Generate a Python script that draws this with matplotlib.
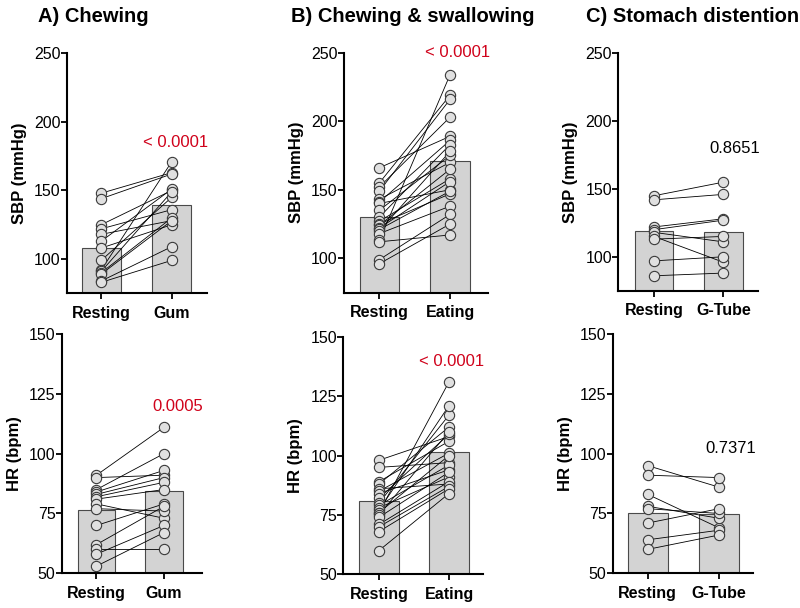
import matplotlib
matplotlib.use('Agg')
import matplotlib.pyplot as plt

plt.rcParams['font.family'] = ['Liberation Sans', 'DejaVu Sans']

# ---------------- data ----------------
labels_A = ['Resting', 'Gum']
labels_B = ['Resting', 'Eating']
labels_C = ['Resting', 'G-Tube']

titles = ['A) Chewing', 'B) Chewing & swallowing', 'C) Stomach distention']

# SBP (mmHg)
sbp_A_rest = [148, 144, 125, 122, 118, 113, 108, 99, 92, 91, 90, 89, 84, 83]
sbp_A_gum = [163, 162, 150, 136, 128, 151, 125, 145, 171, 149, 130, 128, 109, 99]
sbp_A_means = [108, 139.5]

sbp_B_rest = [166, 155, 152, 149, 143, 141, 140, 135, 130, 127, 125, 124, 122, 121, 120, 118, 113, 112, 99, 96]
sbp_B_eat = [189, 219, 203, 216, 170, 186, 150, 175, 183, 158, 147, 165, 156, 149, 178, 138, 234, 117, 132, 125]
sbp_B_means = [130, 171]

sbp_C_rest = [145, 142, 122, 120, 118, 115, 113, 97, 86]
sbp_C_tube = [155, 146, 128, 127, 111, 96, 115, 100, 88]
sbp_C_means = [119, 118]

# HR (bpm)
hr_A_rest = [91, 90, 85, 84, 83, 82, 81, 79, 77, 70, 62, 60, 58, 53]
hr_A_gum = [111, 91, 100, 93, 90, 88, 85, 73, 76, 79, 78, 60, 70, 67]
hr_A_means = [76.5, 84.4]

hr_B_rest = [98, 95, 89, 88, 86, 85, 84, 82, 80, 79, 78, 77, 76, 76, 75, 74, 71, 70, 68, 60]
hr_B_eat = [108, 97, 106, 112, 88, 101, 94, 109, 117, 96, 91, 121, 131, 100, 110, 93, 89, 87, 86, 84]
hr_B_means = [81, 101.5]

hr_C_rest = [95, 91, 83, 78, 77, 71, 64, 60]
hr_C_tube = [86, 90, 69, 73, 75, 77, 68, 66]
hr_C_means = [75, 74.7]

p_sbp = ['< 0.0001', '< 0.0001', '0.8651']
p_hr = ['0.0005', '< 0.0001', '0.7371']

# ---------------- layout ----------------
W, H = 800, 608
fig = plt.figure(figsize=(W / 100, H / 100), dpi=100)

def rect(x0, x1, y0, y1):
    return [x0 / W, 1 - y1 / H, (x1 - x0) / W, (y1 - y0) / H]

RED = '#d0021b'
panels = [
    dict(r=rect(66.7, 207, 53.3, 293.3), xl=(-0.49, 1.5), d=(sbp_A_rest, sbp_A_gum), m=sbp_A_means,
         lab=labels_A, yl=(75, 250), yt=[100, 150, 200, 250], ylab='SBP (mmHg)', p=p_sbp[0], pc=RED, pp=(1.05, 185)),
    dict(r=rect(344, 488.3, 52.7, 292.5), xl=(-0.5, 1.54), d=(sbp_B_rest, sbp_B_eat), m=sbp_B_means,
         lab=labels_B, yl=(75, 250), yt=[100, 150, 200, 250], ylab='SBP (mmHg)', p=p_sbp[1], pc=RED, pp=(1.1, 250)),
    dict(r=rect(618.3, 758.3, 53.3, 290.7), xl=(-0.515, 1.505), d=(sbp_C_rest, sbp_C_tube), m=sbp_C_means,
         lab=labels_C, yl=(75, 250), yt=[100, 150, 200, 250], ylab='SBP (mmHg)', p=p_sbp[2], pc='black', pp=(1.16, 180)),
    dict(r=rect(61.7, 201.7, 334, 573.3), xl=(-0.515, 1.56), d=(hr_A_rest, hr_A_gum), m=hr_A_means,
         lab=labels_A, yl=(50, 150), yt=[50, 75, 100, 125, 150], ylab='HR (bpm)', p=p_hr[0], pc=RED, pp=(1.2, 119.5)),
    dict(r=rect(343.3, 483.3, 336.7, 574.3), xl=(-0.51, 1.49), d=(hr_B_rest, hr_B_eat), m=hr_B_means,
         lab=labels_B, yl=(50, 150), yt=[50, 75, 100, 125, 150], ylab='HR (bpm)', p=p_hr[1], pc=RED, pp=(1.04, 139.5)),
    dict(r=rect(612.7, 753.3, 334, 573.3), xl=(-0.49, 1.48), d=(hr_C_rest, hr_C_tube), m=hr_C_means,
         lab=labels_C, yl=(50, 150), yt=[50, 75, 100, 125, 150], ylab='HR (bpm)', p=p_hr[2], pc='black', pp=(1.17, 102.2)),
]

for pnl in panels:
    ax = fig.add_axes(pnl['r'])
    y0 = pnl['yl'][0]
    xs = [0, 1]
    ax.bar(xs, [v - y0 for v in pnl['m']], bottom=y0, width=0.56, color='#d3d3d3',
           edgecolor='#4a4a4a', linewidth=0.8, zorder=1)
    rest, post = pnl['d']
    for a, b in zip(rest, post):
        ax.plot([0, 1], [a, b], color='black', linewidth=0.6, zorder=2)
    ax.plot([0] * len(rest), rest, 'o', ms=7.4, mfc='#e0e0e0', mec='#3a3a3a', mew=0.8, zorder=3,
            linestyle='none')
    ax.plot([1] * len(post), post, 'o', ms=7.4, mfc='#e0e0e0', mec='#3a3a3a', mew=0.8, zorder=3,
            linestyle='none')
    ax.set_xlim(*pnl['xl'])
    ax.set_ylim(*pnl['yl'])
    ax.set_yticks(pnl['yt'])
    ax.set_xticks(xs)
    ax.set_xticklabels(pnl['lab'], fontsize=11.5, fontweight='bold')
    ax.tick_params(axis='y', labelsize=11.5, length=4, width=1.3, pad=0.5, direction='out')
    ax.tick_params(axis='x', length=4, width=1.3, pad=5, direction='out')
    for s in ['top', 'right']:
        ax.spines[s].set_visible(False)
    for s in ['left', 'bottom']:
        ax.spines[s].set_linewidth(1.5)
    ax.set_ylabel(pnl['ylab'], fontsize=12, fontweight='bold', labelpad=5)
    ax.text(pnl['pp'][0], pnl['pp'][1], pnl['p'], color=pnl['pc'], fontsize=12,
            ha='center', va='center', clip_on=False)

title_x = [93, 412.5, 693]
for t, x in zip(titles, title_x):
    fig.text(x / W, 1 - 16 / H, t, fontsize=14.5, fontweight='bold', ha='center', va='center')

fig.savefig('out.png', dpi=100)
